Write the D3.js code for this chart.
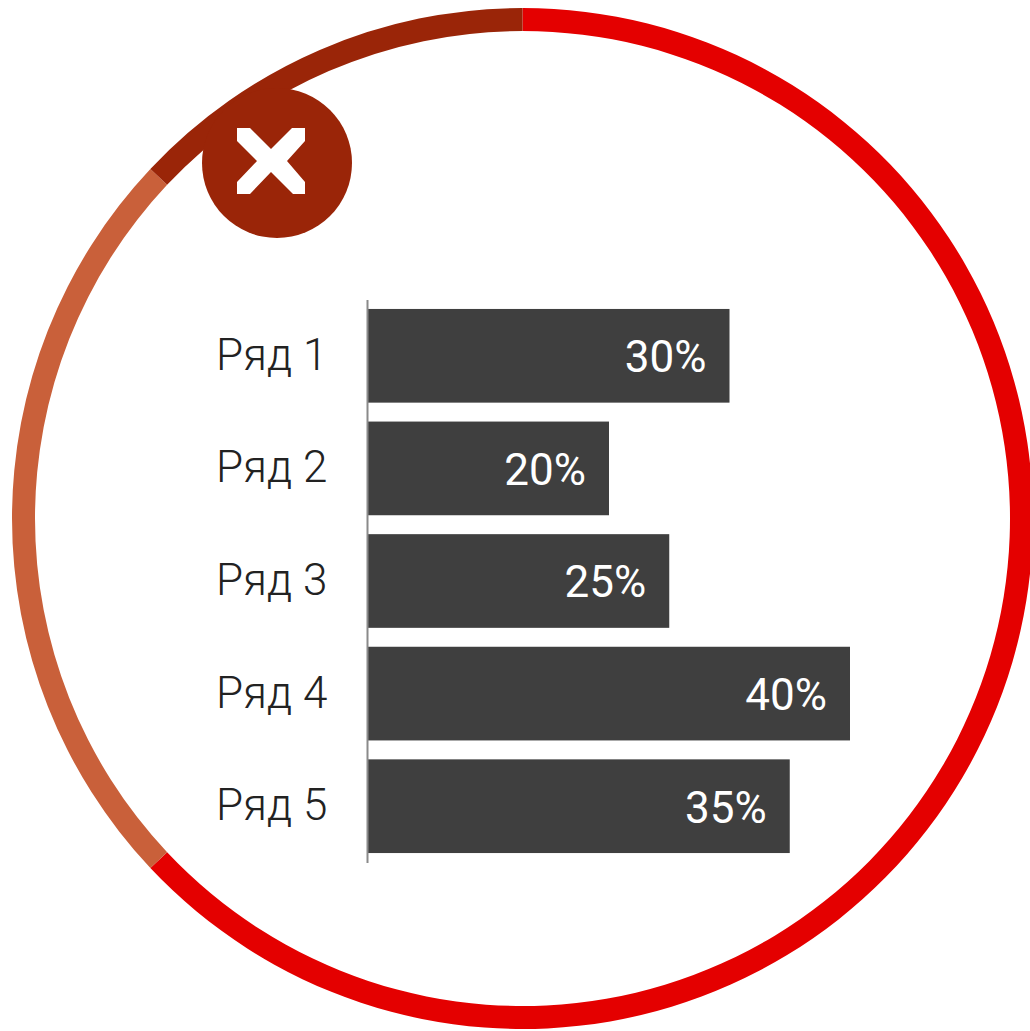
<!DOCTYPE html>
<html><head><meta charset="utf-8">
<script src="https://cdn.jsdelivr.net/npm/d3@7"></script>
<style>html,body{margin:0;padding:0;background:#fff}svg{display:block}text{font-family:Roboto,sans-serif}</style>
</head><body><svg id="c" width="1030" height="1031"></svg>
<script>
const categories = ["Ряд 1","Ряд 2","Ряд 3","Ряд 4","Ряд 5"];
const values = [30,20,25,40,35];
const ringShares = [63,24,13];
const ringColors = ["#e40000","#c9603a","#9a2508"];

const svg = d3.select("#c");
const cx = 522.5, cy = 518.5;

const pie = d3.pie().sort(null).value(d=>d);
const arc = d3.arc().innerRadius(487.5).outerRadius(510.5);
svg.append("g").attr("transform",`translate(${cx},${cy})`)
  .selectAll("path").data(pie(ringShares)).join("path")
  .attr("d",arc).attr("fill",(d,i)=>ringColors[i]);

// badge
const badge = svg.append("g");
badge.append("circle").attr("cx",277).attr("cy",163).attr("r",75).attr("fill",ringColors[2]);
const xPts = [[237,128],[250,128],[271,149],[292,128],[305,128],[305,141],[287,161],[305,182],[305,194],[293,194],[271,172],[250,194],[237,194],[237,182],[257,161],[237,141]];
badge.append("polygon").attr("points",xPts.map(p=>p.join(",")).join(" ")).attr("fill","#fff");

// bars
const x = d3.scaleLinear().domain([0,40]).range([368,850]);
const y = d3.scaleBand().domain(categories).range([299.5,862.5]).paddingInner(0.168).paddingOuter(0.084);

svg.append("g").selectAll("rect").data(values).join("rect")
  .attr("x",x(0)).attr("y",(d,i)=>y(categories[i]))
  .attr("width",d=>x(d)-x(0)).attr("height",y.bandwidth()).attr("fill","#3f3f3f");

const axis = d3.axisLeft(y).tickSize(0).tickPadding(40);
const g = svg.append("g").attr("transform","translate(367,0)").call(axis);
g.select(".domain").attr("stroke","#8a8a8a").attr("stroke-width",2);
g.selectAll("text").attr("text-anchor","start").attr("x",-151).attr("y",-1).attr("dy","0.34em")
  .style("font-size","44px").style("font-weight",300).style("font-family","Roboto,sans-serif").attr("fill","#222");

svg.append("g").selectAll("text").data(values).join("text")
  .attr("x",d=>x(d)-23).attr("y",(d,i)=>y(categories[i])+y.bandwidth()/2+1)
  .attr("dy","0.35em").attr("text-anchor","end")
  .style("font-size","44px").style("font-weight",400).attr("fill","#fff")
  .text(d=>d+"%");
</script></body></html>
